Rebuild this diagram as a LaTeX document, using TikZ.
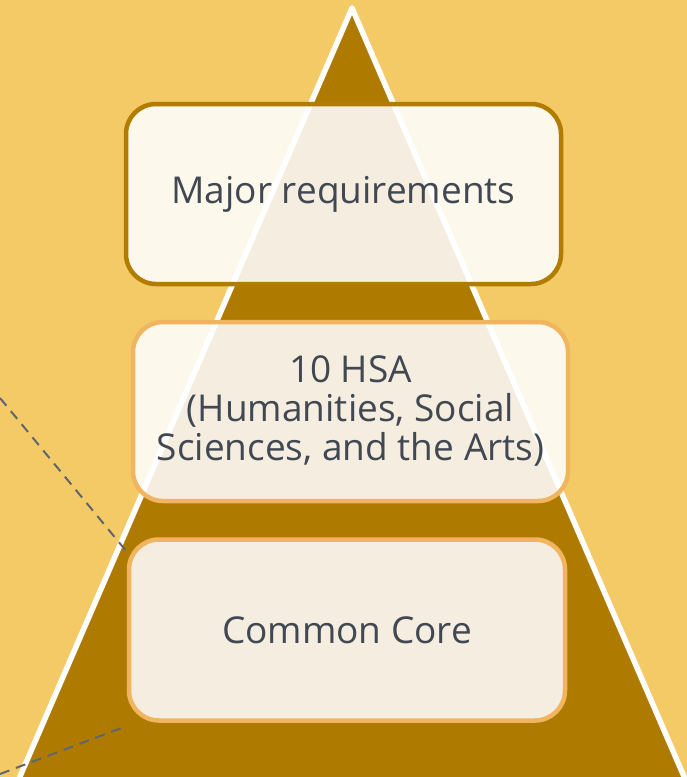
\documentclass[tikz,border=0pt]{standalone}
\usepackage{fontspec}
\setmainfont{Open Sans}
\definecolor{bgyellow}{HTML}{F4CA66}
\definecolor{pyrbrown}{HTML}{AE7B00}
\definecolor{darkgold}{HTML}{B07D00}
\definecolor{lightorange}{HTML}{F0B55E}
\definecolor{txtgray}{HTML}{414852}
\definecolor{dashgray}{HTML}{5F6670}
\tikzset{
  tierbox/.style={draw, line width=4.5pt, rounded corners=30pt, fill=white, fill opacity=0.88, text opacity=1, text=txtgray, align=center, font=\fontsize{37}{39}\selectfont, inner sep=0pt},
  guide/.style={draw=dashgray, line width=2pt, dash pattern=on 10pt off 7pt}
}
\begin{document}
\begin{tikzpicture}[x=1pt,y=-1pt]
\fill[bgyellow] (0,0) rectangle (687,777);
\useasboundingbox (0,0) rectangle (687,777);
\begin{scope}
\clip (0,0) rectangle (687,777);
\coordinate (apex) at (352,8);
\coordinate (bl) at (12,795);
\coordinate (br) at (692,795);
\filldraw[fill=pyrbrown, draw=white, line width=5.5pt, line join=round] (apex) -- (bl) -- (br) -- cycle;
\coordinate (d1a) at (0,398);
\coordinate (d1b) at (127,552);
\coordinate (d2a) at (0,774);
\coordinate (d2b) at (124,727);
\draw[guide] (d1a) -- (d1b);
\draw[guide] (d2a) -- (d2b);
\end{scope}
\node[tierbox, draw=darkgold, minimum width=435pt, minimum height=180pt] (major) at (343.5,194) {Major requirements};
\node[tierbox, draw=lightorange, minimum width=435pt, minimum height=179pt] (hsa) at (350.5,411.5) {10 HSA\\(Humanities, Social\\Sciences, and the Arts)};
\node[tierbox, draw=lightorange, minimum width=436pt, minimum height=181pt] (core) at (347,630) {Common Core};
\end{tikzpicture}
\end{document}
